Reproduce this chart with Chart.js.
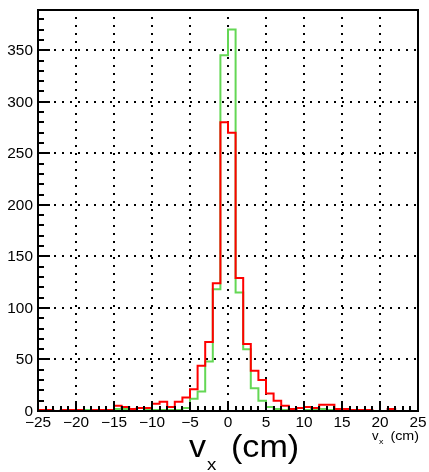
<!DOCTYPE html>
<html>
<head>
<meta charset="utf-8">
<script src="https://cdn.jsdelivr.net/npm/chart.js@4.4.1/dist/chart.umd.min.js"></script>
<style>
  body { margin: 0; background: #fff; }
  canvas { display: block; }
</style>
</head>
<body>
<canvas id="histChart" width="429" height="472"></canvas>
<script>
// bin low edges, 1 cm wide, -25 .. 24
const binLow = Array.from({ length: 50 }, (_, i) => -25 + i);

const redCounts = [
  1, 1, 0, 1, 1, 1, 0, 1, 1, 1,
  5, 4, 2, 3, 3, 7, 9, 4, 9, 13,
  21, 44, 67, 124, 280, 270, 129, 65, 39, 30,
  17, 10, 5, 2, 3, 4, 3, 6, 6, 2,
  2, 1, 1, 1, 0, 0, 2, 0, 0, 0
];

const greenCounts = [
  0, 0, 0, 1, 0, 0, 1, 0, 0, 1,
  2, 2, 1, 0, 1, 1, 1, 1, 1, 3,
  12, 19, 48, 118, 345, 370, 115, 60, 22, 10,
  4, 2, 1, 1, 0, 1, 2, 2, 1, 1,
  1, 0, 0, 0, 0, 0, 0, 0, 0, 0
];

const xTicks = [-25, -20, -15, -10, -5, 0, 5, 10, 15, 20, 25];
const yTicks = [0, 50, 100, 150, 200, 250, 300, 350];
const xMin = -25, xMax = 25, yMax = 389;

function toSteps(counts) {
  const pts = binLow.map((x, i) => ({ x: x, y: counts[i] }));
  pts.push({ x: xMax, y: counts[counts.length - 1] });
  return pts;
}

function label(ctx, str, x, y, size, align) {
  ctx.save();
  ctx.translate(x, y);
  ctx.scale(1.1, 1);
  ctx.font = size + 'px "Liberation Sans", Arial, sans-serif';
  ctx.textAlign = align;
  ctx.textBaseline = 'alphabetic';
  ctx.fillStyle = '#000';
  ctx.fillText(str, 0, 0);
  ctx.restore();
}

function fmt(v) {
  return v < 0 ? '\u2212' + Math.abs(v) : String(v);
}

const rootFrame = {
  id: 'rootFrame',
  beforeDraw(chart) {
    const ctx = chart.ctx;
    ctx.save();
    ctx.fillStyle = '#fff';
    ctx.fillRect(0, 0, chart.width, chart.height);
    ctx.restore();
  },
  beforeDatasetsDraw(chart) {
    const { ctx, chartArea: a, scales: { x, y } } = chart;
    ctx.save();
    ctx.strokeStyle = '#000';
    ctx.lineWidth = 2;
    ctx.setLineDash([2, 6]);
    xTicks.forEach(v => {
      if (v === xMin || v === xMax) return;
      const px = Math.round(x.getPixelForValue(v));
      ctx.beginPath();
      ctx.moveTo(px, a.bottom);
      ctx.lineTo(px, a.top);
      ctx.stroke();
    });
    yTicks.forEach(v => {
      if (v === 0) return;
      const py = Math.round(y.getPixelForValue(v));
      ctx.beginPath();
      ctx.moveTo(a.left, py);
      ctx.lineTo(a.right, py);
      ctx.stroke();
    });
    ctx.restore();
  },
  afterDatasetsDraw(chart) {
    const { ctx, chartArea: a, scales: { x, y } } = chart;
    ctx.save();
    ctx.strokeStyle = '#000';
    ctx.lineWidth = 2;
    ctx.strokeRect(a.left, a.top, a.right - a.left, a.bottom - a.top);

    // x ticks: minor every 1, major every 5
    ctx.beginPath();
    for (let v = xMin; v <= xMax; v++) {
      const px = Math.round(x.getPixelForValue(v));
      const len = v % 5 === 0 ? 9 : 5;
      ctx.moveTo(px, a.bottom);
      ctx.lineTo(px, a.bottom - len);
    }
    // y ticks: minor every 10, major every 50
    for (let v = 0; v <= yMax; v += 10) {
      const py = Math.round(y.getPixelForValue(v));
      const len = v % 50 === 0 ? 12 : 6;
      ctx.moveTo(a.left, py);
      ctx.lineTo(a.left + len, py);
    }
    ctx.stroke();

    xTicks.forEach(v => {
      label(ctx, fmt(v), x.getPixelForValue(v), a.bottom + 16, 14, 'center');
    });
    yTicks.forEach(v => {
      label(ctx, fmt(v), a.left - 5, y.getPixelForValue(v) + 5, 14, 'right');
    });

    // big axis title
    label(ctx, 'v', 189, 457, 31, 'left');
    label(ctx, 'x', 207, 470, 17, 'left');
    label(ctx, '(cm)', 231, 457, 31, 'left');
    // small axis title
    label(ctx, 'v', 372, 440, 12, 'left');
    label(ctx, 'x', 379, 444, 8, 'left');
    label(ctx, '(cm)', a.right + 1, 440, 13, 'right');
    ctx.restore();
  }
};

const data = {
  datasets: [{
    label: 'red',
    data: toSteps(redCounts),
    borderColor: 'rgb(255, 0, 0)',
    borderWidth: 2,
    stepped: 'before',
    pointRadius: 0,
    fill: false
  }, {
    label: 'green',
    data: toSteps(greenCounts),
    borderColor: 'rgb(100, 215, 85)',
    borderWidth: 2,
    stepped: 'before',
    pointRadius: 0,
    fill: false
  }]
};

const config = {
  type: 'line',
  data: data,
  options: {
    responsive: false,
    animation: false,
    devicePixelRatio: 1,
    layout: { padding: { left: 38, top: 10, right: 11, bottom: 61 } },
    plugins: { legend: { display: false }, tooltip: { enabled: false } },
    scales: {
      x: { type: 'linear', min: xMin, max: xMax, display: false },
      y: { type: 'linear', min: 0, max: yMax, display: false }
    }
  },
  plugins: [rootFrame]
};

//eslint-disable-next-line
const histChart = new Chart(document.getElementById('histChart'), config);
</script>
</body>
</html>
